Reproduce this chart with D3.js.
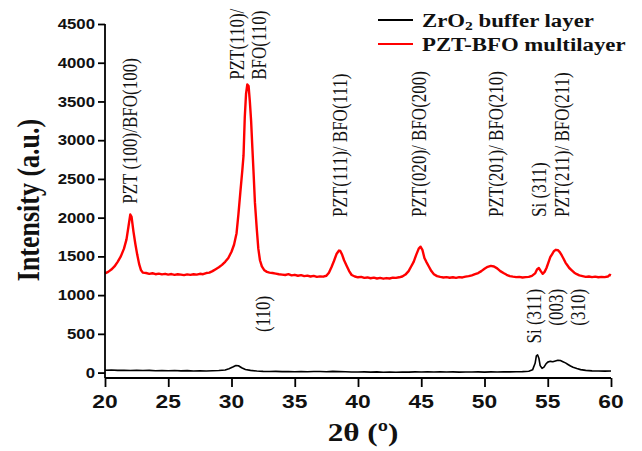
<!DOCTYPE html>
<html>
<head>
<meta charset="utf-8">
<script src="https://cdn.jsdelivr.net/npm/d3@7"></script>
<style>
  body { margin: 0; background: #fff; }
  svg { display: block; }
</style>
</head>
<body>
<svg id="chart" width="642" height="451"></svg>
<script>
// ZrO2 buffer layer (2theta, intensity)
const bufferLayer = [
  [20.0, 30], [20.5, 33], [21.0, 28], [21.5, 31], [22.0, 27], [22.5, 30], [23.0, 26], [23.5, 29],
  [24.0, 24], [24.5, 27], [25.0, 24], [25.5, 26], [26.0, 22], [26.5, 25], [27.0, 21], [27.5, 24],
  [28.0, 20], [28.5, 24], [29.0, 26], [29.5, 34], [29.8, 50], [30.1, 72], [30.35, 92], [30.55, 88],
  [30.8, 62], [31.1, 40], [31.5, 28], [32.0, 20], [32.5, 16], [33.0, 14], [33.5, 16], [34.0, 12],
  [34.5, 14], [35.0, 11], [35.5, 14], [36.0, 10], [36.5, 13], [37.0, 14], [37.5, 11], [38.0, 15],
  [38.5, 12], [39.0, 10], [39.5, 8], [40.0, 7], [40.5, 9], [41.0, 6], [41.5, 9], [42.0, 5],
  [42.5, 8], [43.0, 5], [43.5, 8], [44.0, 6], [44.5, 9], [45.0, 7], [45.5, 9], [46.0, 8],
  [46.5, 10], [47.0, 7], [47.5, 9], [48.0, 6], [48.5, 8], [49.0, 7], [49.5, 9], [50.0, 6],
  [50.5, 9], [51.0, 7], [51.5, 10], [52.0, 9], [52.5, 11], [53.0, 12], [53.5, 18], [53.8, 35],
  [54.0, 120], [54.1, 215], [54.2, 228], [54.3, 185], [54.4, 90], [54.55, 55], [54.7, 70],
  [54.85, 110], [55.0, 135], [55.2, 145], [55.4, 140], [55.6, 150], [55.8, 160], [56.0, 155],
  [56.2, 140], [56.4, 125], [56.6, 105], [56.8, 85], [57.0, 68], [57.3, 52], [57.6, 38],
  [58.0, 28], [58.5, 22], [59.0, 20], [59.5, 19], [60.0, 20]
];

// PZT-BFO multilayer (2theta, intensity)
const multilayer = [
  [20.0, 1280], [20.25, 1300], [20.5, 1330], [20.75, 1370], [21.0, 1430], [21.25, 1500],
  [21.5, 1600], [21.7, 1720], [21.85, 1880], [22.0, 2040], [22.1, 2010], [22.25, 1820],
  [22.4, 1660], [22.55, 1520], [22.7, 1400], [22.85, 1320], [23.0, 1290], [23.25, 1285],
  [23.5, 1275], [23.75, 1282], [24.0, 1270], [24.25, 1278], [24.5, 1268], [24.75, 1275],
  [25.0, 1265], [25.25, 1272], [25.5, 1262], [25.75, 1270], [26.0, 1265], [26.25, 1258],
  [26.5, 1268], [26.75, 1262], [27.0, 1270], [27.25, 1265], [27.5, 1275], [27.75, 1270],
  [28.0, 1285], [28.25, 1290], [28.5, 1310], [28.75, 1335], [29.0, 1360], [29.25, 1390],
  [29.5, 1430], [29.75, 1480], [30.0, 1560], [30.2, 1650], [30.4, 1800], [30.55, 2050],
  [30.7, 2330], [30.85, 2600], [30.95, 2800], [31.05, 3300], [31.15, 3600], [31.25, 3720],
  [31.35, 3700], [31.45, 3500], [31.55, 3250], [31.65, 2900], [31.75, 2560], [31.85, 2200],
  [32.0, 1850], [32.12, 1600], [32.25, 1450], [32.4, 1370], [32.6, 1320], [32.8, 1300],
  [33.0, 1290], [33.25, 1285], [33.5, 1278], [33.75, 1270], [34.0, 1265], [34.25, 1260],
  [34.5, 1270], [34.75, 1255], [35.0, 1262], [35.25, 1250], [35.5, 1258], [35.75, 1245],
  [36.0, 1252], [36.25, 1240], [36.5, 1248], [36.75, 1235], [37.0, 1242], [37.25, 1238],
  [37.5, 1250], [37.7, 1290], [37.9, 1360], [38.1, 1440], [38.3, 1530], [38.5, 1575],
  [38.6, 1570], [38.75, 1520], [38.9, 1450], [39.1, 1380], [39.3, 1310], [39.5, 1260],
  [39.75, 1240], [40.0, 1230], [40.25, 1235], [40.5, 1222], [40.75, 1228], [41.0, 1218],
  [41.25, 1225], [41.5, 1215], [41.75, 1222], [42.0, 1212], [42.25, 1220], [42.5, 1215],
  [42.75, 1225], [43.0, 1222], [43.25, 1230], [43.5, 1240], [43.75, 1265], [44.0, 1310],
  [44.2, 1370], [44.4, 1430], [44.6, 1520], [44.8, 1600], [44.95, 1625], [45.1, 1580],
  [45.25, 1480], [45.4, 1430], [45.6, 1370], [45.8, 1310], [46.0, 1270], [46.25, 1245],
  [46.5, 1235], [46.75, 1228], [47.0, 1232], [47.25, 1224], [47.5, 1230], [47.75, 1222],
  [48.0, 1232], [48.25, 1228], [48.5, 1238], [48.75, 1245], [49.0, 1255], [49.25, 1270],
  [49.5, 1285], [49.75, 1310], [50.0, 1340], [50.25, 1365], [50.5, 1378], [50.75, 1370],
  [51.0, 1345], [51.25, 1310], [51.5, 1285], [51.75, 1262], [52.0, 1245], [52.25, 1238],
  [52.5, 1232], [52.75, 1235], [53.0, 1228], [53.25, 1232], [53.5, 1235], [53.75, 1248],
  [54.0, 1280], [54.15, 1330], [54.3, 1350], [54.45, 1310], [54.6, 1275], [54.75, 1300],
  [54.9, 1350], [55.05, 1420], [55.2, 1490], [55.35, 1530], [55.5, 1570], [55.65, 1585],
  [55.8, 1580], [55.95, 1555], [56.1, 1515], [56.25, 1470], [56.4, 1420], [56.55, 1385],
  [56.7, 1350], [56.9, 1320], [57.1, 1290], [57.3, 1270], [57.5, 1255], [57.75, 1245],
  [58.0, 1235], [58.25, 1240], [58.5, 1232], [58.75, 1238], [59.0, 1230], [59.25, 1236],
  [59.5, 1232], [59.75, 1240], [59.9, 1262], [60.0, 1255]
];

const xTicks = [20, 25, 30, 35, 40, 45, 50, 55, 60];
const yTicks = [0, 500, 1000, 1500, 2000, 2500, 3000, 3500, 4000, 4500];

const seriesNames = ["ZrO\u2082 buffer layer", "PZT-BFO multilayer"];
const seriesColors = ["#000000", "#ff0000"];

// peak labels: [text, 2theta of centre, intensity, anchor ('start' = bottom end, 'end' = top end)]
const peakLabels = [
  ["PZT (100)/BFO(100)", 21.98, 2180, "start"],
  ["PZT(110)/", 30.4, 3780, "start"],
  ["BFO(110)", 32.13, 3780, "start"],
  ["PZT(111)/ BFO(111)", 38.58, 2010, "start"],
  ["PZT(020)/ BFO(200)", 44.78, 2010, "start"],
  ["PZT(201)/ BFO(210)", 50.87, 2010, "start"],
  ["Si (311)", 54.27, 2010, "start"],
  ["PZT(211)/ BFO(211)", 56.09, 2010, "start"],
  ["(110)", 32.49, 524, "start"],
  ["Si (311)", 53.94, 1080, "end"],
  ["(003)", 55.65, 1080, "end"],
  ["(310)", 57.35, 1080, "end"]
];

const svg = d3.select("#chart");
const stretch = 1.2; // the picture is a bit wider than its fonts

let x = d3.scaleLinear().domain([20, 60]).range([105, 611]);
let y = d3.scaleLinear().domain([-70, 4500]).range([378, 24]);

// curves
let line = d3.line()
  .x((d) => x(d[0]))
  .y((d) => y(d[1]));

svg.append("path")
  .datum(bufferLayer)
  .attr("d", line)
  .attr("fill", "none")
  .attr("stroke", seriesColors[0])
  .attr("stroke-width", 1.6)
  .attr("stroke-linejoin", "round");

svg.append("path")
  .datum(multilayer)
  .attr("d", line)
  .attr("fill", "none")
  .attr("stroke", seriesColors[1])
  .attr("stroke-width", 2.4)
  .attr("stroke-linejoin", "round");

// axes
let xAxis = svg.append("g").attr("transform", "translate(0,378)");
xAxis.call(d3.axisBottom(x).tickValues(d3.range(20, 61, 1)).tickSize(5).tickFormat(""));
xAxis.call(d3.axisBottom(x).tickValues(xTicks).tickSize(9).tickFormat(""));
xAxis.selectAll("path, line").attr("stroke", "#000").attr("stroke-width", 1.8);

let yAxis = svg.append("g").attr("transform", "translate(105,0)");
yAxis.call(d3.axisLeft(y).tickValues(d3.range(0, 4501, 250)).tickSize(4).tickFormat(""));
yAxis.call(d3.axisLeft(y).tickValues(yTicks).tickSize(7).tickFormat(""));
yAxis.selectAll("path, line").attr("stroke", "#000").attr("stroke-width", 1.8);
yAxis.selectAll("path").attr("d", "M0," + y(4500) + "V378");
xAxis.selectAll("path").attr("d", "M" + x(20) + ",0H" + x(60));

// tick labels
xTicks.forEach((t) => {
  svg.append("g")
    .attr("transform", "translate(" + x(t) + ",408) scale(" + stretch + ",1)")
    .append("text")
    .attr("text-anchor", "middle")
    .style("font", "bold 19px 'Liberation Sans', Arial, sans-serif")
    .attr("fill", "#111")
    .text(t);
});

yTicks.forEach((t) => {
  svg.append("g")
    .attr("transform", "translate(95," + y(t) + ") scale(" + stretch + ",1)")
    .append("text")
    .attr("text-anchor", "end")
    .attr("dy", "0.36em")
    .style("font", "bold 14px 'Liberation Sans', Arial, sans-serif")
    .attr("fill", "#111")
    .text(t);
});

// axis titles
svg.append("g")
  .attr("transform", "translate(28,200) scale(" + stretch + ",1) rotate(-90)")
  .append("text")
  .attr("text-anchor", "middle")
  .attr("dy", "0.35em")
  .style("font", "bold 26px 'Liberation Serif', 'Times New Roman', serif")
  .attr("fill", "#111")
  .text("Intensity (a.u.)");

svg.append("g")
  .attr("transform", "translate(363,441) scale(" + stretch + ",1)")
  .append("text")
  .attr("text-anchor", "middle")
  .style("font", "bold 26px 'Liberation Serif', 'Times New Roman', serif")
  .attr("fill", "#111")
  .text("2\u03b8 (\u00ba)");

// peak labels
peakLabels.forEach((p) => {
  svg.append("g")
    .attr("transform", "translate(" + x(p[1]) + "," + y(p[2]) + ") scale(" + stretch + ",1) rotate(-90)")
    .append("text")
    .attr("text-anchor", p[3])
    .attr("dy", "0.35em")
    .style("font", "17px 'Liberation Serif', 'Times New Roman', serif")
    .attr("fill", "#111")
    .text(p[0]);
});

// legend
let legend = svg.append("g");
seriesNames.forEach((name, i) => {
  let ly = 20 + i * 24;
  legend.append("line")
    .attr("x1", 378).attr("x2", 413)
    .attr("y1", ly).attr("y2", ly)
    .attr("stroke", seriesColors[i])
    .attr("stroke-width", 2);
  let t = legend.append("g")
    .attr("transform", "translate(422," + (ly + 7) + ") scale(" + stretch + ",1)")
    .append("text")
    .style("font", "bold 19px 'Liberation Serif', 'Times New Roman', serif")
    .attr("fill", "#111");
  if (i === 0) {
    t.append("tspan").text("ZrO");
    t.append("tspan").attr("font-size", "13px").attr("dy", 3).text("2");
    t.append("tspan").attr("dy", -3).text(" buffer layer");
  } else {
    t.text(name);
  }
});
</script>
</body>
</html>
